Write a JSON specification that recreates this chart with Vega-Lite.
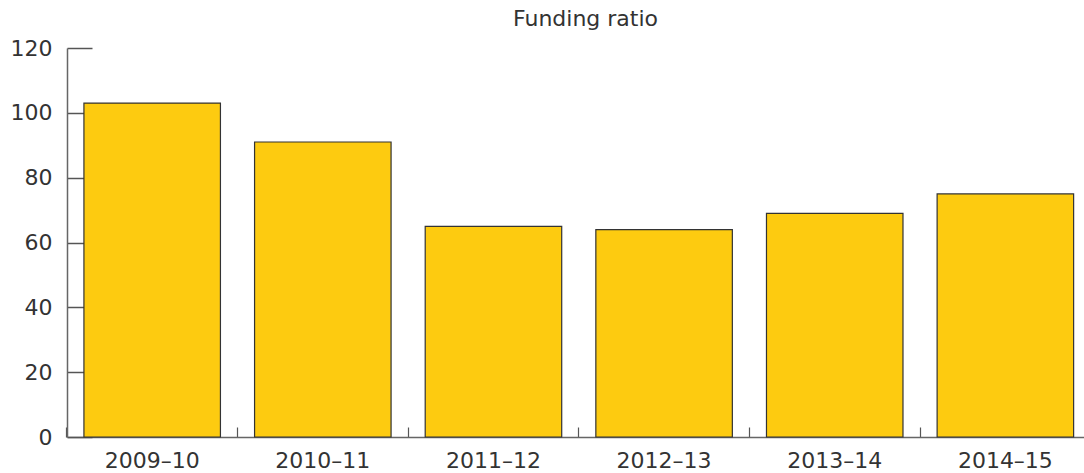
{
  "$schema": "https://vega.github.io/schema/vega-lite/v6.json",
  "autosize": "none",
  "padding": {"left": 67, "top": 48, "right": 0, "bottom": 36},
  "width": 1017,
  "height": 389,
  "background": "white",
  "config": {"font": "DejaVu Sans", "view": {"stroke": null}},
  "title": {"text": "Funding ratio", "fontSize": 22, "fontWeight": "normal", "color": "#333333", "offset": 6, "dx": 10, "font": "DejaVu Sans"},
  "data": {"values": [
    {"year": "2009–10", "ratio": 103},
    {"year": "2010–11", "ratio": 91},
    {"year": "2011–12", "ratio": 65},
    {"year": "2012–13", "ratio": 64},
    {"year": "2013–14", "ratio": 69},
    {"year": "2014–15", "ratio": 75}
  ]},
  "mark": {"type": "bar", "fill": "#FDCB10", "stroke": "#333333", "strokeWidth": 1.2},
  "encoding": {
    "x": {"field": "year", "type": "nominal", "sort": null,
      "scale": {"paddingInner": 0.2, "paddingOuter": 0.08, "align": 0.62},
      "axis": {"title": null, "labelAngle": 0, "labelFontSize": 22, "labelColor": "#333333", "labelPadding": 23,
        "domainColor": "#666666", "domainWidth": 1.5, "tickColor": "#555555", "tickWidth": 1.2, "tickSize": -10, "bandPosition": -0.125}},
    "y": {"field": "ratio", "type": "quantitative",
      "scale": {"domain": [0, 120], "nice": false},
      "axis": {"title": null, "values": [0, 20, 40, 60, 80, 100, 120], "grid": false, "labelFontSize": 22, "labelColor": "#333333", "labelPadding": 40,
        "domainColor": "#666666", "domainWidth": 1.5, "tickColor": "#555555", "tickWidth": 1.5, "tickSize": -25}}
  }
}
